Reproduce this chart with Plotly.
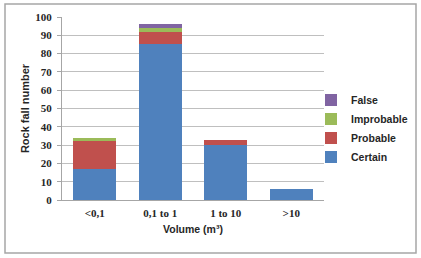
import plotly.graph_objects as go

categories = ["<0,1", "0,1 to 1", "1 to 10", ">10"]
certain = [17, 85, 30, 6]
probable = [15, 7, 3, 0]
improbable = [2, 2, 0, 0]
false_vals = [0, 2, 0, 0]
series_names = ["Certain", "Probable", "Improbable", "False"]
colors = ["#4F81BD", "#C0504D", "#9BBB59", "#8064A2"]
y_ticks = [0, 10, 20, 30, 40, 50, 60, 70, 80, 90, 100]

fig = go.Figure()
for name, vals, col in zip(series_names, [certain, probable, improbable, false_vals], colors):
    fig.add_trace(go.Bar(x=categories, y=vals, name=name, marker_color=col,
                         marker_line_width=0))

L, R, T, B = 62, 97, 17, 58
W, H = 421, 258
pw, ph = W - L - R, H - T - B

def px(x):
    return (x - L) / pw

def py(y):
    return (H - B - y) / ph

fig.update_layout(
    width=W, height=H,
    margin=dict(l=L, r=R, t=T, b=B, autoexpand=False),
    barmode="stack", bargap=0.35,
    plot_bgcolor="white", paper_bgcolor="white",
    showlegend=True,
    legend=dict(x=px(311), xanchor="left", y=py(128.5), yanchor="middle",
                font=dict(family="Liberation Sans", size=10.5, color="#262626", weight="bold"),
                traceorder="reversed", itemwidth=30, bgcolor="rgba(0,0,0,0)",
                borderwidth=0),
    shapes=[dict(type="rect", xref="paper", yref="paper",
                 x0=px(5), x1=px(416), y0=py(253), y1=py(4),
                 line=dict(color="#A6A6A6", width=1.5), layer="below")],
)
fig.update_xaxes(
    showline=True, linecolor="#A6A6A6", linewidth=1,
    ticklabelstandoff=3,
    tickfont=dict(family="Liberation Serif", size=11, color="#262626", weight="bold"),
    title=dict(text="Volume (m³)", standoff=7,
               font=dict(family="Liberation Sans", size=10.5, color="#262626", weight="bold")),
)
fig.update_yaxes(
    range=[0, 100], tickvals=y_ticks, showline=True, linecolor="#A6A6A6", linewidth=1,
    showgrid=True, gridcolor="#BFBFBF", gridwidth=1,
    ticks="outside", ticklen=4, tickcolor="#A6A6A6", ticklabelstandoff=3,
    tickfont=dict(family="Liberation Serif", size=11, color="#262626", weight="bold"),
    title=dict(text="Rock fall number", standoff=3,
               font=dict(family="Liberation Sans", size=11, color="#262626", weight="bold")),
    zeroline=False,
)

fig.write_html("out.html")
